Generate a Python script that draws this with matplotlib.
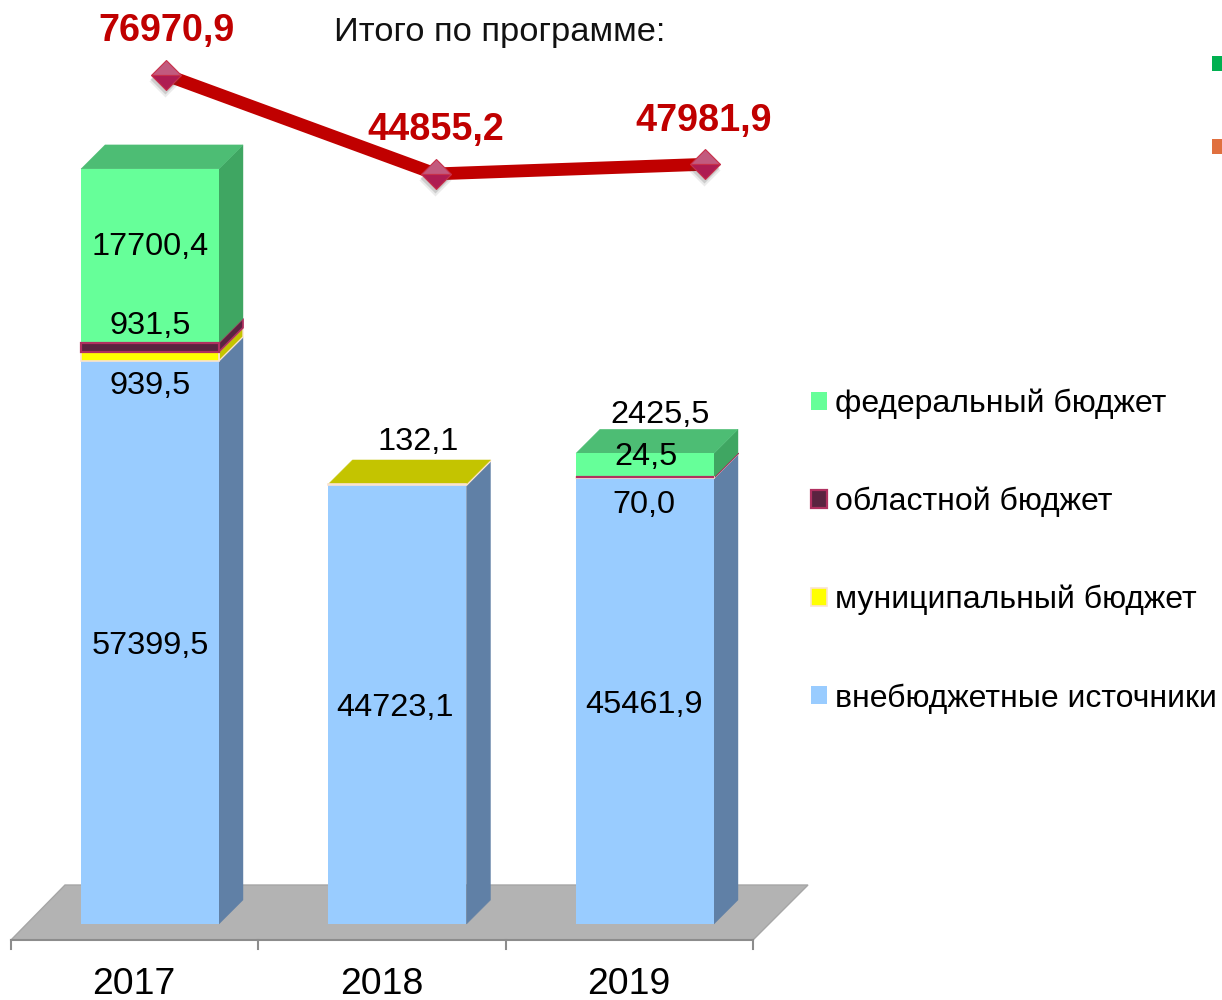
import matplotlib
matplotlib.use("Agg")
import matplotlib.pyplot as plt
from matplotlib.patches import Polygon, Rectangle
from matplotlib.transforms import Affine2D

plt.rcParams['font.family'] = ['Liberation Sans', 'DejaVu Sans']

# ---------- data ----------
years = ['2017', '2018', '2019']
offbudget = [57399.5, 44723.1, 45461.9]
municipal = [939.5, 132.1, 70.0]
regional = [931.5, 0.0, 24.5]
federal = [17700.4, 0.0, 2425.5]
totals = [76970.9, 44855.2, 47981.9]
total_labels = ['76970,9', '44855,2', '47981,9']
series_names = ['внебюджетные источники', 'муниципальный бюджет',
                'областной бюджет', 'федеральный бюджет']
title_text = 'Итого по программе:'

# ---------- geometry (pixels) ----------
W, H = 1222, 1000
STEP = 247.5
X0 = 150.0
BASE = 924.0
SCALE = 0.00981
BAR_W = 138 / STEP
DEPTH = 24.0
dx = DEPTH / STEP
dy = DEPTH / SCALE

fig = plt.figure(figsize=(W / 100, H / 100), dpi=100, facecolor='white')
ax = fig.add_axes([0, 0, 1, 1])
ax.set_xlim(-X0 / STEP, (W - X0) / STEP)
ax.set_ylim(-(H - BASE) / SCALE, BASE / SCALE)
ax.axis('off')


def px(x_px):
    return (x_px - X0) / STEP


def py(y_px):
    return (BASE - y_px) / SCALE


# floor and category axis
ax.add_patch(Polygon([(px(11), py(940)), (px(753), py(940)), (px(808), py(885)), (px(65), py(885))],
                     closed=True, fc='#B3B3B3', ec='#A6A6A6', lw=1.0, zorder=1))
AX_C = '#8C8C8C'
ax.plot([px(11), px(753)], [py(940), py(940)], color=AX_C, lw=1.5, zorder=1.5)
for t in range(4):
    ax.plot([px(11 + 247.33 * t)] * 2, [py(940), py(949)], color=AX_C, lw=1.5, zorder=1.5)
for i, y in enumerate(years):
    ax.annotate(y, xy=(i, 0), xytext=(-16, -60), textcoords='offset pixels', ha='center', va='center',
                fontsize=26.9, color='black')

# stacked 3D bars
series = [offbudget, municipal, regional, federal]
front = ['#99CCFF', '#FFFF00', '#5A2340', '#66FF99']
edge = ['#99CCFF', '#FBE3D0', '#B03060', '#66FF99']
side = ['#6080A6', '#C4C400', '#5A2340', '#3FA662']
top = ['#7FA8D0', '#C4C400', '#8A2A50', '#4DBD74']
lw = [0, 1.2, 1.6, 0]
zo = [3.0, 3.1, 3.2, 3.0]

bottom = [0.0, 0.0, 0.0]
handles = []
for s, vals in enumerate(series):
    widths = [lw[s] if v > 0 else 0 for v in vals]
    cont = ax.bar(range(3), vals, BAR_W, bottom=bottom, color=front[s], edgecolor=edge[s],
                  linewidth=widths, zorder=zo[s], label=series_names[s])
    handles.append(Rectangle((0, 0), 1, 1, fc=front[s], ec=edge[s], lw=lw[s]))
    for i, v in enumerate(vals):
        if v <= 0:
            continue
        xr = i + BAR_W / 2
        b = bottom[i]
        ax.add_patch(Polygon([(xr, b), (xr + dx, b + dy), (xr + dx, b + v + dy), (xr, b + v)],
                             closed=True, fc=side[s], ec=edge[s] if lw[s] else side[s],
                             lw=lw[s] * 0.8 if lw[s] else 0.3, zorder=2.5 + s * 0.01))
    bottom = [b + v for b, v in zip(bottom, vals)]

# top faces
for i in range(3):
    idx = max(k for k in range(4) if series[k][i] > 0)
    xl, xr = i - BAR_W / 2, i + BAR_W / 2
    ax.add_patch(Polygon([(xl, bottom[i]), (xr, bottom[i]), (xr + dx, bottom[i] + dy), (xl + dx, bottom[i] + dy)],
                         closed=True, fc=top[idx], ec=top[idx], lw=0.3, zorder=2.6))

# value labels (anchored on the bars, nudged in pixels)
LBL = 23.4


def label(i, value, b, text_off):
    ax.annotate(str(value).replace('.', ','), xy=(i, b + value / 2), xytext=text_off, textcoords='offset pixels',
                ha='center', va='center', fontsize=LBL, color='black', zorder=6)


label(0, offbudget[0], 0, (0, -4))
label(0, municipal[0], offbudget[0], (0, -30))
label(0, regional[0], offbudget[0] + municipal[0], (0, 21))
label(0, federal[0], offbudget[0] + municipal[0] + regional[0], (0, 9))
label(1, offbudget[1], 0, (-2, -3))
label(1, municipal[1], offbudget[1], (21, 43))
label(2, offbudget[2], 0, (-1, -4))
label(2, municipal[2], offbudget[2], (-1, -27))
label(2, regional[2], offbudget[2] + municipal[2], (1, 20))
label(2, federal[2], offbudget[2] + municipal[2] + regional[2], (15, 50))

# legend
leg = ax.legend(handles=handles[::-1], labels=series_names[::-1], loc='center left',
                bbox_to_anchor=(795 / W, 1 - 551 / H),
                frameon=False, fontsize=23.0, handlelength=0.5, handleheight=0.5,
                handletextpad=0.25, labelspacing=2.12, borderpad=0, borderaxespad=0.5)

# total line, own scale
ax2 = fig.add_axes([0, 0, 1, 1])
ax2.patch.set_alpha(0)
ax2.axis('off')
LSTEP = 269.5
LX0 = 166.0
LSCALE = 0.00308
LBASE = 75 + 76970.9 * LSCALE
ax2.set_xlim(-LX0 / LSTEP, (W - LX0) / LSTEP)
ax2.set_ylim(-(H - LBASE) / LSCALE, LBASE / LSCALE)
xs = list(range(3))
ax2.plot(xs, totals, color='#C00000', lw=9.2, solid_capstyle='butt', zorder=5)
for a, o, m in [(0.10, 6, 16), (0.18, 4, 15)]:
    ax2.plot(xs, totals, ls='none', marker='D', ms=m, mfc='#444444', mec='none', alpha=a, zorder=5.1,
             transform=ax2.transData + Affine2D().translate(-1, -o))
ax2.plot(xs, totals, ls='none', marker='D', ms=15.3, fillstyle='top', mfc='#C25A7E', markerfacecoloralt='#AE1C52',
         mec='#C8304A', mew=0.8, zorder=5.2)
off = [(1, 44), (0, 44), (-1, 43)]
for i, t in enumerate(total_labels):
    ax2.annotate(t, xy=(i, totals[i]), xytext=off[i], textcoords='offset pixels', ha='center', va='center',
                 fontsize=27.2, fontweight='bold', color='#C00000', zorder=7)
ax2.annotate(title_text, xy=(499.5 / W, 1 - 32 / H), xycoords='figure fraction', ha='center', va='center',
             fontsize=24.75, color='#111111')

# clipped squares at the right edge
fig.patches.append(Rectangle((1212 / W, 1 - 71 / H), 10 / W, 15 / H, transform=fig.transFigure, fc='#00B050', ec='none'))
fig.patches.append(Rectangle((1212 / W, 1 - 154 / H), 10 / W, 15 / H, transform=fig.transFigure, fc='#E0703F', ec='none'))

fig.savefig('out.png', dpi=100, facecolor='white')
